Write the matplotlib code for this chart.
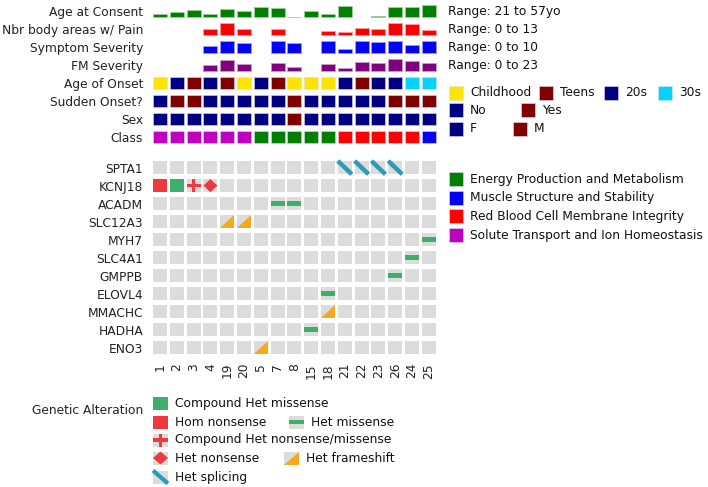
import numpy as np
import matplotlib.pyplot as plt
from matplotlib.patches import Rectangle, Polygon

# patients (column order)
patients = ["1", "2", "3", "4", "19", "20", "5", "7", "8", "15", "18", "21", "22", "23", "26", "24", "25"]

# continuous rows (nan = missing)
nan = np.nan
age_consent = [31, 36, 43, 31, 44, 39, 51, 49, 21, 39, 31, 55, nan, 24, 51, 51, 57]
pain_areas = [nan, nan, nan, 6, 13, 6, nan, 6, nan, nan, 4, 3, 8, 6, 13, 12, 5]
symptom_sev = [nan, nan, nan, 6, 10, 8, nan, 10, 8, nan, 10, 3, 10, 9, 10, 7, 10]
fm_sev = [nan, nan, nan, 12, 22, 14, nan, 16, 8, nan, 14, 6, 18, 15, 23, 19, 15]

# categorical rows
age_onset = ["Childhood", "20s", "Teens", "20s", "Teens", "Childhood", "20s", "Teens", "Childhood",
             "Childhood", "Childhood", "20s", "Teens", "20s", "20s", "30s", "30s"]
sudden_onset = ["No", "Yes", "Yes", "No", "No", "No", "No", "No", "Yes", "No", "No", "No", "No",
                "No", "Yes", "Yes", "Yes"]
sex = ["F"] * 8 + ["M"] + ["F"] * 8
klass = ["Solute"] * 6 + ["Energy"] * 5 + ["RBC"] * 5 + ["Muscle"]

# genes and alterations: (gene, column index, alteration)
genes = ["SPTA1", "KCNJ18", "ACADM", "SLC12A3", "MYH7", "SLC4A1", "GMPPB", "ELOVL4", "MMACHC", "HADHA", "ENO3"]
alterations = [
    ("SPTA1", 11, "splice"), ("SPTA1", 12, "splice"), ("SPTA1", 13, "splice"), ("SPTA1", 14, "splice"),
    ("KCNJ18", 0, "hom_nons"), ("KCNJ18", 1, "comp_mis"), ("KCNJ18", 2, "comp_nons_mis"), ("KCNJ18", 3, "het_nons"),
    ("ACADM", 7, "het_mis"), ("ACADM", 8, "het_mis"),
    ("SLC12A3", 4, "frameshift"), ("SLC12A3", 5, "frameshift"),
    ("MYH7", 16, "het_mis"), ("SLC4A1", 15, "het_mis"), ("GMPPB", 14, "het_mis"),
    ("ELOVL4", 10, "het_mis"), ("MMACHC", 10, "frameshift"), ("HADHA", 9, "het_mis"),
    ("ENO3", 6, "frameshift"),
]

cont_labels = ["Age at Consent", "Nbr body areas w/ Pain", "Symptom Severity", "FM Severity"]
cont_ranges = ["Range: 21 to 57yo", "Range: 0 to 13", "Range: 0 to 10", "Range: 0 to 23"]
cat_labels = ["Age of Onset", "Sudden Onset?", "Sex", "Class"]

onset_colors = {"Childhood": "#ffe400", "Teens": "#800000", "20s": "#000080", "30s": "#00d4ff"}
yesno_colors = {"No": "#000080", "Yes": "#800000"}
sex_colors = {"F": "#000080", "M": "#800000"}
class_colors = {"Energy": "#008000", "Muscle": "#0000ff", "RBC": "#ff0000", "Solute": "#c000c0"}
class_names = {"Energy": "Energy Production and Metabolism", "Muscle": "Muscle Structure and Stability",
               "RBC": "Red Blood Cell Membrane Integrity", "Solute": "Solute Transport and Ion Homeostasis"}

GREY = "#dcdcdc"
MRED = "#f0393f"
MGREEN = "#3daf68"
ORANGE = "#f7a81b"
TEAL = "#2a9bb8"

W, H = 708, 487
fig = plt.figure(figsize=(W / 100, H / 100), dpi=100)
FS = 8.8

# main axes: x unit = one column (16.8 px), y unit = one row (18 px)
px0, px1, py0, py1 = 150, 440, 0, 356
ax = fig.add_axes([px0 / W, 1 - py1 / H, (px1 - px0) / W, (py1 - py0) / H])
ax.set_xlim((px0 - 160) / 16.8, (px1 - 160) / 16.8)
ax.set_ylim((py1 - 11) / 18, (py0 - 11) / 18)
for s in ax.spines.values():
    s.set_visible(False)

cw = 14 / 16.8
ncol = len(patients)
cols = np.arange(ncol)

# continuous bars
bar_h = 12 / 18
cont_data = [age_consent, pain_areas, symptom_sev, fm_sev]
cont_colors = ["#008000", "#ff0000", "#0000ff", "#800080"]
cont_edges = ["#9ccf9c", "#ff9c9c", "#9c9cff", "#c89cc8"]
for r, (vals, c, ec) in enumerate(zip(cont_data, cont_colors, cont_edges)):
    v = np.array(vals, dtype=float)
    lo = np.nanmin(v) if r == 0 else 0
    hi = np.nanmax(v)
    frac = (v - lo) / (hi - lo)
    for i in cols:
        if np.isnan(frac[i]):
            continue
        ax.add_patch(Rectangle((i - cw / 2, r + bar_h / 2), cw, -frac[i] * bar_h,
                               facecolor=c, edgecolor=ec, lw=0.6))

# categorical rows
cat_data = [(age_onset, onset_colors), (sudden_onset, yesno_colors), (sex, sex_colors), (klass, class_colors)]
for k, (vals, cmap) in enumerate(cat_data):
    r = 4 + k
    for i in cols:
        ax.add_patch(Rectangle((i - cw / 2, r - bar_h / 2), cw, bar_h,
                               facecolor=cmap[vals[i]], edgecolor="#d8d8f0", lw=0.4))


# mutation glyphs (y axis points down in both axes)
def draw_glyph(a, x, y, kind, w, h, lw_splice=3.2):
    if kind == "hom_nons":
        a.add_patch(Rectangle((x - w / 2, y - h / 2), w, h, facecolor=MRED, lw=0))
    elif kind == "comp_mis":
        a.add_patch(Rectangle((x - w / 2, y - h / 2), w, h, facecolor=MGREEN, lw=0))
    elif kind == "het_mis":
        a.add_patch(Rectangle((x - w / 2, y - h * 0.17), w, h * 0.34, facecolor=MGREEN, lw=0))
    elif kind == "comp_nons_mis":
        a.add_patch(Rectangle((x - w / 2, y - h * 0.12), w, h * 0.24, facecolor=MRED, lw=0))
        a.add_patch(Rectangle((x - w * 0.12, y - h / 2), w * 0.24, h, facecolor=MRED, lw=0))
    elif kind == "het_nons":
        a.add_patch(Polygon([(x - w / 2, y), (x, y - h / 2), (x + w / 2, y), (x, y + h / 2)],
                            closed=True, facecolor=MRED, lw=0))
    elif kind == "frameshift":
        a.add_patch(Polygon([(x - w / 2, y + h / 2), (x + w / 2, y + h / 2), (x + w / 2, y - h / 2)],
                            closed=True, facecolor=ORANGE, lw=0))
    elif kind == "splice":
        a.plot([x - w / 2, x + w / 2], [y - h / 2, y + h / 2], color=TEAL, lw=lw_splice,
               solid_capstyle="butt")


gene_y0 = 8.7
gh = 13.3 / 18
for j, g in enumerate(genes):
    y = gene_y0 + j
    for i in cols:
        ax.add_patch(Rectangle((i - cw / 2, y - gh / 2), cw, gh, facecolor=GREY, lw=0))
for g, i, kind in alterations:
    draw_glyph(ax, i, gene_y0 + genes.index(g), kind, cw, gh)

ax.set_yticks(list(range(8)) + [gene_y0 + j for j in range(len(genes))])
ax.set_yticklabels(cont_labels + cat_labels + genes, fontsize=FS, color="#222222")
ax.tick_params(axis="y", length=0, pad=5)
ax.set_xticks(cols)
ax.set_xticklabels(patients, rotation=90, fontsize=FS, color="#222222")
ax.tick_params(axis="x", length=0, pad=5)

# overlay axes in pixel units for legends
lg = fig.add_axes([0, 0, 1, 1])
lg.set_xlim(0, W)
lg.set_ylim(H, 0)
lg.axis("off")

for k, t in enumerate(cont_ranges):
    lg.text(448, 12 + 18 * k, t, fontsize=FS, va="center", ha="left", color="#111111")

sq = 14


def legend_sq(x, y, color, label, gap=7):
    lg.add_patch(Rectangle((x, y - sq / 2), sq, sq, facecolor=color, edgecolor="#e0e0f0", lw=0.4))
    lg.text(x + sq + gap, y, label, fontsize=FS, va="center", ha="left", color="#111111")


onset_x = [449, 539, 604, 658]
for x, key in zip(onset_x, ["Childhood", "Teens", "20s", "30s"]):
    legend_sq(x, 93, onset_colors[key], key)
for x, key in zip([449, 521], ["No", "Yes"]):
    legend_sq(x, 110, yesno_colors[key], key)
for x, key in zip([449, 513], ["F", "M"]):
    legend_sq(x, 129, sex_colors[key], key)
for k, key in enumerate(["Energy", "Muscle", "RBC", "Solute"]):
    legend_sq(449, 179 + 18.7 * k, class_colors[key], class_names[key])

# genetic alteration legend
lg.text(143, 411, "Genetic Alteration", fontsize=FS, va="center", ha="right", color="#222222")
alt_legend = [
    ("comp_mis", "Compound Het missense", 153, 403),
    ("hom_nons", "Hom nonsense", 153, 422),
    ("het_mis", "Het missense", 289, 422),
    ("comp_nons_mis", "Compound Het nonsense/missense", 153, 440),
    ("het_nons", "Het nonsense", 153, 458),
    ("frameshift", "Het frameshift", 284, 458),
    ("splice", "Het splicing", 153, 477),
]
for kind, label, x, y in alt_legend:
    w, h = 15, 13
    if kind not in ("comp_mis", "hom_nons"):
        lg.add_patch(Rectangle((x, y - h / 2), w, h, facecolor=GREY, lw=0))
    draw_glyph(lg, x + w / 2, y, kind, w, h, lw_splice=3.0)
    lg.text(x + w + 7, y, label, fontsize=FS, va="center", ha="left", color="#111111")

fig.savefig("out.png", dpi=100)
